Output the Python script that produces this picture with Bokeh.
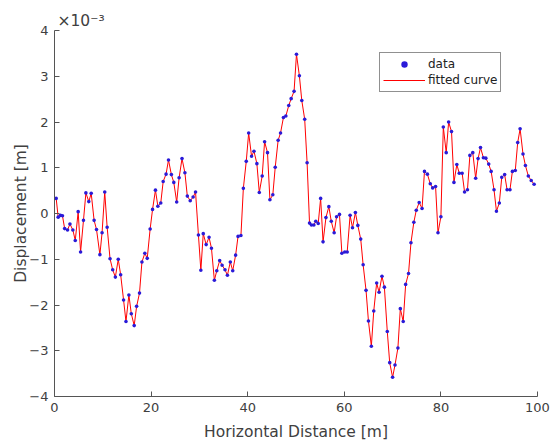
from bokeh.plotting import figure
from bokeh.models import Range1d, FixedTicker, Title, Legend, LegendItem
from bokeh.embed import file_html
from bokeh.resources import INLINE

# Horizontal distance [m]
x_m = [0.35, 0.76, 1.24, 1.65, 2.1, 2.7, 3.2, 3.8, 4.3, 4.9, 5.4, 6.0, 6.5, 7.1, 7.6, 8.2, 8.7, 9.4, 9.85,
       10.4, 10.9, 11.5, 12.05, 12.6, 13.2, 13.7, 14.3, 14.8, 15.4, 15.9, 16.5, 17.0, 17.6, 18.1, 18.7,
       19.2, 19.8, 20.3, 20.9, 21.4, 22.0, 22.5, 23.1, 23.6, 24.2, 24.7, 25.3, 25.8, 26.4, 27.0, 27.5,
       28.1, 28.7, 29.2, 29.8, 30.3, 30.8, 31.4, 32.0, 32.5, 33.1, 33.6, 34.2, 34.7, 35.3, 35.8, 36.4,
       36.9, 37.5, 38.0, 38.6, 39.1, 39.7, 40.2, 40.8, 41.3, 41.9, 42.4, 43.0, 43.5, 44.1, 44.6, 45.2,
       45.7, 46.3, 46.8, 47.4, 47.9, 48.5, 49.0, 49.6, 50.1, 50.7, 51.2, 51.8, 52.3, 52.8, 53.2, 53.7,
       54.1, 54.6, 55.1, 55.6, 56.2, 56.8, 57.3, 57.9, 58.4, 59.0, 59.5, 60.1, 60.6, 61.2, 61.7, 62.3,
       62.8, 63.4, 63.9, 64.5, 65.0, 65.6, 66.1, 66.7, 67.2, 67.8, 68.3, 68.9, 69.4, 70.0, 70.5, 71.1,
       71.6, 72.2, 72.7, 73.3, 73.8, 74.4, 74.9, 75.5, 76.1, 76.6, 77.2, 77.8, 78.3, 78.9, 79.4, 80.0,
       80.5, 81.1, 81.6, 82.2, 82.7, 83.3, 83.8, 84.4, 84.9, 85.5, 86.0, 86.6, 87.2, 87.7, 88.2, 88.8,
       89.3, 89.9, 90.4, 91.0, 91.5, 92.1, 92.6, 93.2, 93.7, 94.3, 94.8, 95.4, 95.9, 96.4, 97.0, 97.5,
       98.1, 98.7, 99.3]

# Displacement in units of 1e-3 m
disp_e3 = [0.33, -0.08, -0.04, -0.05, -0.33, -0.36, -0.23, -0.36, -0.59, 0.04, -0.84, -0.15, 0.45, 0.26,
           0.44, -0.15, -0.35, -0.90, -0.42, 0.47, -0.30, -0.99, -1.23, -1.39, -1.0, -1.34, -1.89, -2.36,
           -1.78, -2.19, -2.45, -2.03, -1.74, -1.06, -0.87, -0.98, -0.34, 0.09, 0.51, 0.16, 0.23, 0.70,
           0.86, 1.17, 0.85, 0.68, 0.25, 0.78, 1.20, 0.89, 0.38, 0.28, 0.36, 0.47, -0.47, -1.24, -0.44,
           -0.68, -0.52, -0.76, -1.46, -1.25, -1.03, -1.13, -1.23, -1.35, -1.06, -1.25, -0.91, -0.50,
           -0.48, 0.55, 1.14, 1.76, 1.25, 1.36, 1.09, 0.46, 0.82, 1.57, 1.33, 0.30, 0.41, 1.01, 1.60,
           1.76, 2.10, 2.13, 2.36, 2.51, 2.67, 3.48, 3.01, 2.47, 2.06, 1.11, -0.21, -0.25, -0.25, -0.17,
           -0.22, 0.33, -0.62, -0.09, 0.15, -0.17, -0.42, -0.07, -0.02, -0.87, -0.84, -0.84, -0.04, -0.31,
           0.02, -0.26, -0.56, -1.12, -1.68, -2.35, -2.90, -2.13, -1.52, -1.72, -1.37, -1.61, -2.58, -3.26,
           -3.58, -3.31, -2.94, -2.08, -2.36, -1.55, -1.31, -0.64, -0.19, 0.07, 0.24, 0.11, 0.92, 0.86,
           0.65, 0.56, 0.59, -0.42, -0.07, 1.89, 1.33, 2.0, 1.79, 0.68, 1.07, 0.88, 0.88, 0.47, 0.52,
           1.27, 1.33, 0.77, 1.20, 1.44, 1.22, 1.21, 1.08, 0.92, 0.52, 0.05, 0.23, 0.79, 0.85, 0.52,
           0.52, 0.92, 0.94, 1.55, 1.85, 1.30, 1.05, 0.82, 0.72, 0.64]

x_ticks = [0, 20, 40, 60, 80, 100]
y_ticks = [-4, -3, -2, -1, 0, 1, 2, 3, 4]
y_multiplier = "\u00d710\u207b\u00b3"

FONT = "DejaVu Sans"
TXT = "#404040"
AX = "#555555"

p = figure(width=550, height=446, output_backend="svg", toolbar_location=None,
           x_range=Range1d(0, 100), y_range=Range1d(-4, 4),
           min_border_left=54, min_border_right=13, min_border_top=30, min_border_bottom=50,
           x_axis_label="Horizontal Distance [m]", y_axis_label="Displacement [m]")

p.outline_line_color = None
p.xgrid.visible = False
p.ygrid.visible = False
p.background_fill_color = "white"
p.border_fill_color = "white"

p.xaxis.ticker = FixedTicker(ticks=x_ticks)
p.yaxis.ticker = FixedTicker(ticks=y_ticks)
for ax in (p.xaxis[0], p.yaxis[0]):
    ax.major_tick_in = 5
    ax.major_tick_out = 0
    ax.minor_tick_line_color = None
    ax.axis_line_color = AX
    ax.major_tick_line_color = AX
    ax.major_label_text_font = FONT
    ax.major_label_text_font_size = "13px"
    ax.major_label_text_color = TXT
    ax.axis_label_text_font = FONT
    ax.axis_label_text_font_size = "15.5px"
    ax.axis_label_text_font_style = "normal"
    ax.axis_label_text_color = TXT
    ax.major_label_standoff = 6
p.xaxis[0].axis_label_standoff = 8
p.yaxis[0].axis_label_standoff = -4

line = p.line(x_m, disp_e3, line_color="#ff0000", line_width=1)
pts = p.scatter(x_m, disp_e3, size=3.6, fill_color="#2a1ad8", line_color=None)

legend = Legend(items=[LegendItem(label="data", renderers=[pts]),
                       LegendItem(label="fitted curve", renderers=[line])],
                location=(325, 304))
legend.label_text_font = FONT
legend.label_text_font_size = "12px"
legend.label_text_color = "#222222"
legend.glyph_width = 42
legend.glyph_height = 16
legend.label_height = 16
legend.label_standoff = 3
legend.padding = 3
legend.spacing = 0
legend.margin = 0
legend.border_line_color = "#222222"
legend.border_line_width = 1
legend.background_fill_alpha = 1
p.add_layout(legend, "center")

mult = Title(text=y_multiplier, align="left", offset=3, standoff=1,
             text_font=FONT, text_font_size="15.5px", text_font_style="normal",
             text_color=TXT)
p.add_layout(mult, "above")

open("out.html", "w").write(file_html(p, INLINE))
